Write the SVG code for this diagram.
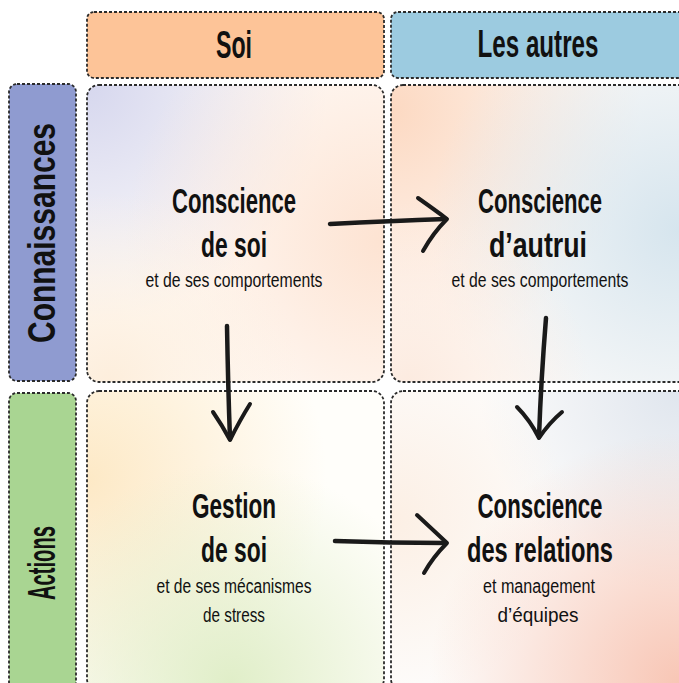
<svg xmlns="http://www.w3.org/2000/svg" width="679" height="683" viewBox="0 0 679 683">
<defs>
<style>
.box{stroke:#2b2b2b;stroke-width:1.8;stroke-dasharray:3 2;fill:none}
.t{font-family:"Liberation Sans Narrow","Liberation Sans",Arial,sans-serif;fill:#111;text-anchor:middle}
.title{font-size:35px;font-weight:bold}
.head{font-size:39px;font-weight:bold}
.sub{font-size:20px}
.arrow{stroke:#1a1a1a;fill:none;stroke-linecap:round;stroke-linejoin:round}
</style>
<radialGradient id="tl1" gradientUnits="userSpaceOnUse" cx="87" cy="85" r="240"><stop offset="0" stop-color="#d6d7ee"/><stop offset="1" stop-color="#d6d7ee" stop-opacity="0"/></radialGradient>
<radialGradient id="tl2" gradientUnits="userSpaceOnUse" cx="384" cy="240" r="260"><stop offset="0" stop-color="#fde3d2"/><stop offset="1" stop-color="#fde3d2" stop-opacity="0"/></radialGradient>
<radialGradient id="tl3" gradientUnits="userSpaceOnUse" cx="110" cy="382" r="190"><stop offset="0" stop-color="#fdeedc"/><stop offset="1" stop-color="#fdeedc" stop-opacity="0"/></radialGradient>
<radialGradient id="tr1" gradientUnits="userSpaceOnUse" cx="391" cy="110" r="250"><stop offset="0" stop-color="#fcd9c2"/><stop offset="1" stop-color="#fcd9c2" stop-opacity="0"/></radialGradient>
<radialGradient id="tr2" gradientUnits="userSpaceOnUse" cx="679" cy="230" r="250"><stop offset="0" stop-color="#d6e5ee"/><stop offset="1" stop-color="#d6e5ee" stop-opacity="0"/></radialGradient>
<radialGradient id="tr3" gradientUnits="userSpaceOnUse" cx="410" cy="382" r="180"><stop offset="0" stop-color="#fcebe0"/><stop offset="1" stop-color="#fcebe0" stop-opacity="0"/></radialGradient>
<radialGradient id="bl1" gradientUnits="userSpaceOnUse" cx="87" cy="480" r="240"><stop offset="0" stop-color="#fde9c6"/><stop offset="1" stop-color="#fde9c6" stop-opacity="0"/></radialGradient>
<radialGradient id="bl2" gradientUnits="userSpaceOnUse" cx="230" cy="683" r="220"><stop offset="0" stop-color="#e0eec8"/><stop offset="1" stop-color="#e0eec8" stop-opacity="0"/></radialGradient>
<radialGradient id="br1" gradientUnits="userSpaceOnUse" cx="679" cy="683" r="250"><stop offset="0" stop-color="#f8c6b5"/><stop offset="1" stop-color="#f8c6b5" stop-opacity="0"/></radialGradient>
<radialGradient id="br2" gradientUnits="userSpaceOnUse" cx="679" cy="391" r="200"><stop offset="0" stop-color="#e0e6ee"/><stop offset="1" stop-color="#e0e6ee" stop-opacity="0"/></radialGradient>
<radialGradient id="br3" gradientUnits="userSpaceOnUse" cx="391" cy="520" r="180"><stop offset="0" stop-color="#fcefe4"/><stop offset="1" stop-color="#fcefe4" stop-opacity="0"/></radialGradient>
</defs>
<rect width="679" height="683" fill="#ffffff"/>

<g id="header-soi">
<rect x="87" y="12" width="297" height="66" rx="7" fill="#fdc498"/>
<rect x="87" y="12" width="297" height="66" rx="7" class="box"/>
<text class="t head" x="234" y="58" textLength="36" lengthAdjust="spacingAndGlyphs">Soi</text>
</g>
<g id="header-autres">
<rect x="391" y="12" width="300" height="66" rx="7" fill="#9ccbe0"/>
<rect x="391" y="12" width="300" height="66" rx="7" class="box"/>
<text class="t head" x="538" y="57" textLength="121" lengthAdjust="spacingAndGlyphs">Les autres</text>
</g>
<g id="row-connaissances">
<rect x="9" y="84" width="67" height="297" rx="8" fill="#8f9bd0"/>
<rect x="9" y="84" width="67" height="297" rx="8" class="box"/>
<text class="t head" transform="translate(55,233) rotate(-90)" x="0" y="0" textLength="220" lengthAdjust="spacingAndGlyphs">Connaissances</text>
</g>
<g id="row-actions">
<rect x="9" y="393" width="67" height="300" rx="8" fill="#a9d592"/>
<rect x="9" y="393" width="67" height="300" rx="8" class="box"/>
<text class="t head" transform="translate(55,563) rotate(-90)" x="0" y="0" textLength="74" lengthAdjust="spacingAndGlyphs">Actions</text>
</g>

<g id="cell-conscience-soi">
<rect x="87" y="85" width="297" height="297" rx="12" fill="#fffdfb"/>
<rect x="87" y="85" width="297" height="297" rx="12" fill="url(#tl1)"/>
<rect x="87" y="85" width="297" height="297" rx="12" fill="url(#tl2)"/>
<rect x="87" y="85" width="297" height="297" rx="12" fill="url(#tl3)"/>
<rect x="87" y="85" width="297" height="297" rx="12" class="box"/>
<text class="t title" x="234" y="213" textLength="124" lengthAdjust="spacingAndGlyphs">Conscience</text>
<text class="t title" x="234" y="257" textLength="66" lengthAdjust="spacingAndGlyphs">de soi</text>
<text class="t sub" x="234" y="287" textLength="177" lengthAdjust="spacingAndGlyphs">et de ses comportements</text>
</g>
<g id="cell-conscience-autrui">
<rect x="391" y="85" width="300" height="297" rx="12" fill="#fffcfa"/>
<rect x="391" y="85" width="300" height="297" rx="12" fill="url(#tr1)"/>
<rect x="391" y="85" width="300" height="297" rx="12" fill="url(#tr2)"/>
<rect x="391" y="85" width="300" height="297" rx="12" fill="url(#tr3)"/>
<rect x="391" y="85" width="300" height="297" rx="12" class="box"/>
<text class="t title" x="540" y="213" textLength="124" lengthAdjust="spacingAndGlyphs">Conscience</text>
<text class="t title" x="538" y="257" textLength="98" lengthAdjust="spacingAndGlyphs">d’autrui</text>
<text class="t sub" x="540" y="287" textLength="177" lengthAdjust="spacingAndGlyphs">et de ses comportements</text>
</g>
<g id="cell-gestion-soi">
<rect x="87" y="391" width="297" height="300" rx="12" fill="#fffefa"/>
<rect x="87" y="391" width="297" height="300" rx="12" fill="url(#bl1)"/>
<rect x="87" y="391" width="297" height="300" rx="12" fill="url(#bl2)"/>
<rect x="87" y="391" width="297" height="300" rx="12" class="box"/>
<text class="t title" x="234" y="518" textLength="84" lengthAdjust="spacingAndGlyphs">Gestion</text>
<text class="t title" x="234" y="562" textLength="66" lengthAdjust="spacingAndGlyphs">de soi</text>
<text class="t sub" x="234" y="593" textLength="155" lengthAdjust="spacingAndGlyphs">et de ses mécanismes</text>
<text class="t sub" x="234" y="622" textLength="62" lengthAdjust="spacingAndGlyphs">de stress</text>
</g>
<g id="cell-conscience-relations">
<rect x="391" y="391" width="300" height="300" rx="12" fill="#fdfcfb"/>
<rect x="391" y="391" width="300" height="300" rx="12" fill="url(#br2)"/>
<rect x="391" y="391" width="300" height="300" rx="12" fill="url(#br3)"/>
<rect x="391" y="391" width="300" height="300" rx="12" fill="url(#br1)"/>
<rect x="391" y="391" width="300" height="300" rx="12" class="box"/>
<text class="t title" x="540" y="518" textLength="125" lengthAdjust="spacingAndGlyphs">Conscience</text>
<text class="t title" x="540" y="562" textLength="146" lengthAdjust="spacingAndGlyphs">des relations</text>
<text class="t sub" x="539" y="593" textLength="112" lengthAdjust="spacingAndGlyphs">et management</text>
<text class="t sub" x="538" y="622" textLength="81" lengthAdjust="spacingAndGlyphs">d’équipes</text>
</g>

<g id="connectors">
<path class="arrow" stroke-width="4.5" d="M330 224 Q390 221 446 219"/>
<path class="arrow" stroke-width="4" d="M418 198 Q435 210 447 219 Q433 233 423 251"/>
<path class="arrow" stroke-width="4.5" d="M335 541 Q390 543 446 543"/>
<path class="arrow" stroke-width="4" d="M417 515 Q433 530 447 543 Q433 557 424 573"/>
<path class="arrow" stroke-width="4.5" d="M227 326 Q228 385 230 439"/>
<path class="arrow" stroke-width="4" d="M213 412 Q222 425 230 440 Q240 420 250 404"/>
<path class="arrow" stroke-width="4.5" d="M546 318 Q541 380 539 437"/>
<path class="arrow" stroke-width="4" d="M517 407 Q530 420 539 438 Q549 423 562 412"/>
</g>
</svg>
